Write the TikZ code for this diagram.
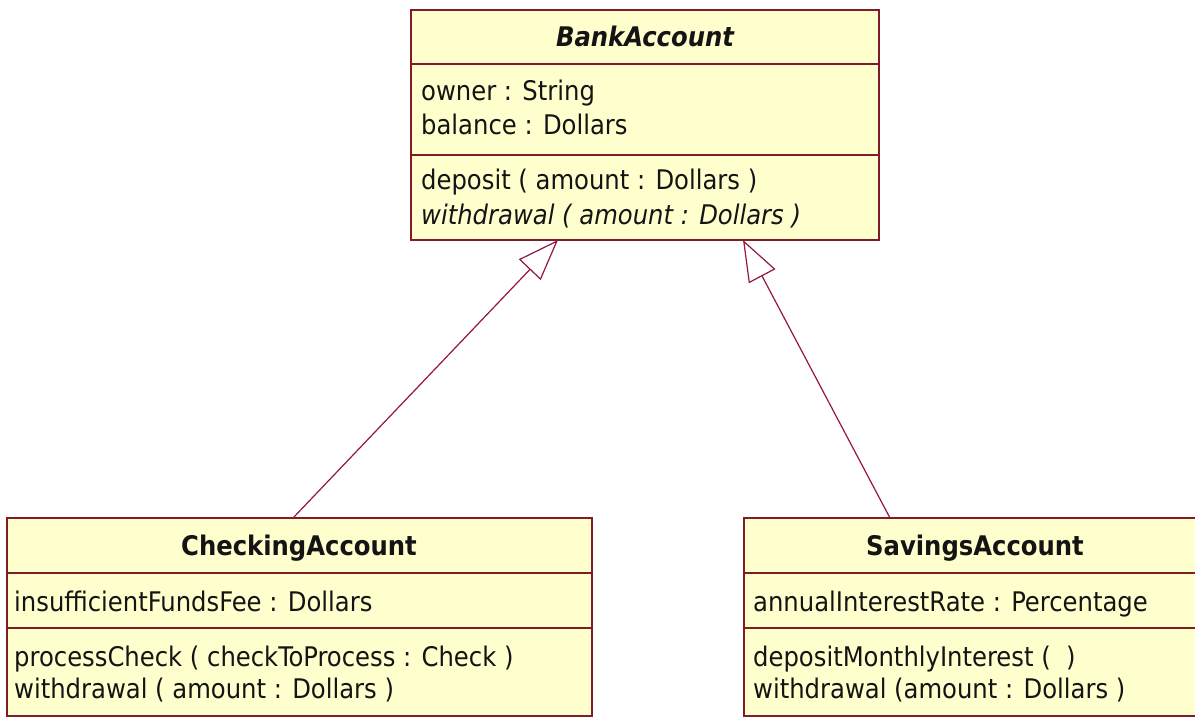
\documentclass[tikz,border=0pt]{standalone}
\usepackage{fontspec}
\setmainfont{DejaVu Sans Condensed}
\usetikzlibrary{arrows.meta}
\definecolor{umlfill}{RGB}{255,255,206}
\definecolor{umlborder}{RGB}{128,28,40}
\definecolor{umlarrow}{RGB}{150,20,70}
\definecolor{umltext}{RGB}{20,20,20}
\begin{document}
\begin{tikzpicture}[x=1pt,y=-1pt,
  classbox/.style={draw=umlborder, line width=2pt, fill=umlfill, rectangle, inner sep=0pt, outer sep=0pt, anchor=north west},
  divider/.style={draw=umlborder, line width=2pt},
  member/.style={anchor=base west, inner sep=0pt, text=umltext, font=\fontsize{27}{32}\selectfont},
  ctitle/.style={anchor=base, inner sep=0pt, text=umltext, font=\fontsize{27}{32}\selectfont\bfseries},
  inherit/.style={draw=umlarrow, line width=1.2pt, -{Triangle[open, length=41pt, width=30pt, line width=1.2pt]}},
]
\useasboundingbox (0,0) rectangle (1195,717);
\fill[white] (0,0) rectangle (1195,717);
\clip (0,0) rectangle (1195,717);

% BankAccount
\node[classbox, minimum width=468pt, minimum height=230pt] (bank) at (411,10) {};
\draw[divider] (bank.west |- 0,64) -- (bank.east |- 0,64);
\draw[divider] (bank.west |- 0,155) -- (bank.east |- 0,155);
\node[ctitle] (bankT) at (645,47) {\itshape BankAccount};
\node[member] (bankA1) at (421,100) {owner : String};
\node[member] (bankA2) at (421,135) {balance : Dollars};
\node[member] (bankO1) at (421,189) {deposit ( amount : Dollars )};
\node[member] (bankO2) at (421,224) {\itshape withdrawal ( amount : Dollars )};

% CheckingAccount
\node[classbox, minimum width=585pt, minimum height=198pt] (check) at (6.5,518) {};
\draw[divider] (check.west |- 0,573) -- (check.east |- 0,573);
\draw[divider] (check.west |- 0,628) -- (check.east |- 0,628);
\node[ctitle] (checkT) at (299,555) {CheckingAccount};
\node[member] (checkA1) at (14,611) {insufficientFundsFee : Dollars};
\node[member] (checkO1) at (14,666) {processCheck ( checkToProcess : Check )};
\node[member] (checkO2) at (14,698) {withdrawal ( amount : Dollars )};

% SavingsAccount
\node[classbox, minimum width=462pt, minimum height=198pt] (sav) at (744,518) {};
\draw[divider] (sav.west |- 0,573) -- (sav.east |- 0,573);
\draw[divider] (sav.west |- 0,628) -- (sav.east |- 0,628);
\node[ctitle] (savT) at (975,555) {SavingsAccount};
\node[member] (savA1) at (753,611) {annualInterestRate : Percentage};
\node[member] (savO1) at (753,666) {depositMonthlyInterest ( \ )};
\node[member] (savO2) at (753,698) {withdrawal (amount : Dollars )};

% generalizations
\coordinate (tipL) at (bank.south -| 558,0);
\coordinate (tipR) at (bank.south -| 743,0);
\coordinate (tailL) at (check.north -| 293,0);
\coordinate (tailR) at (sav.north -| 890,0);
\draw[inherit] (tailL) -- (tipL);
\draw[inherit] (tailR) -- (tipR);
\end{tikzpicture}
\end{document}
